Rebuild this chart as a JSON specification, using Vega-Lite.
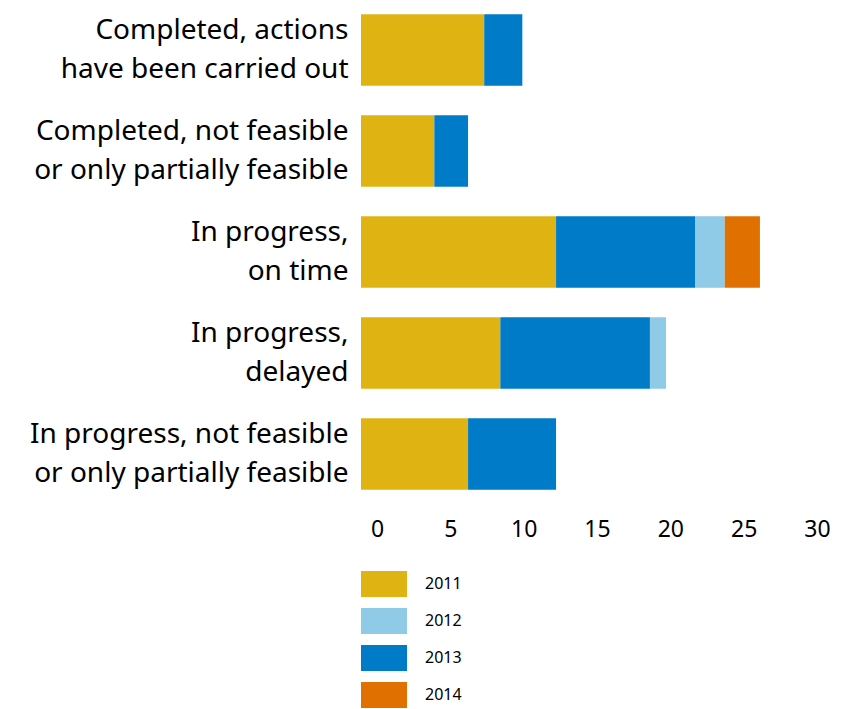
{
  "$schema": "https://vega.github.io/schema/vega-lite/v6.json",
  "autosize": {"type": "none"},
  "padding": {"left": 361, "top": 0, "right": 55, "bottom": 205},
  "width": 440,
  "height": 504,
  "background": "white",
  "config": {
    "font": "Noto Sans",
    "view": {"stroke": null}
  },
  "data": {
    "values": [
      {"status": "Completed, actions |have been carried out", "year": "2011", "count": 8.4},
      {"status": "Completed, actions |have been carried out", "year": "2013", "count": 2.6},
      {"status": "Completed, not feasible|or only partially feasible", "year": "2011", "count": 5.0},
      {"status": "Completed, not feasible|or only partially feasible", "year": "2013", "count": 2.3},
      {"status": "In progress,|on time", "year": "2011", "count": 13.3},
      {"status": "In progress,|on time", "year": "2013", "count": 9.5},
      {"status": "In progress,|on time", "year": "2012", "count": 2.0},
      {"status": "In progress,|on time", "year": "2014", "count": 2.4},
      {"status": "In progress,|delayed", "year": "2011", "count": 9.5},
      {"status": "In progress,|delayed", "year": "2013", "count": 10.2},
      {"status": "In progress,|delayed", "year": "2012", "count": 1.1},
      {"status": "In progress, not feasible |or only partially feasible", "year": "2011", "count": 7.3},
      {"status": "In progress, not feasible |or only partially feasible", "year": "2013", "count": 6.0}
    ]
  },
  "transform": [
    {"calculate": "indexof(['2011', '2013', '2012', '2014'], datum.year)", "as": "stackOrder"}
  ],
  "mark": {"type": "bar"},
  "encoding": {
    "y": {
      "field": "status",
      "type": "nominal",
      "sort": null,
      "scale": {"paddingInner": 0.29, "paddingOuter": 0.14},
      "axis": {
        "title": null,
        "domain": false,
        "ticks": false,
        "labelExpr": "split(datum.label, '|')",
        "labelFontSize": 28,
        "labelLineHeight": 39,
        "labelColor": "#000000",
        "labelPadding": 13,
        "labelOffset": -19,
        "labelLimit": 400
      }
    },
    "x": {
      "field": "count",
      "type": "quantitative",
      "stack": "zero",
      "scale": {"domain": [0, 30], "nice": false},
      "axis": {
        "title": null,
        "domain": false,
        "ticks": false,
        "grid": false,
        "values": [0, 5, 10, 15, 20, 25, 30],
        "labelFontSize": 23,
        "labelColor": "#000000",
        "labelPadding": 14,
        "labelOffset": 16,
        "labelFlush": false,
        "labelOverlap": false
      }
    },
    "color": {
      "field": "year",
      "type": "nominal",
      "scale": {
        "domain": ["2011", "2012", "2013", "2014"],
        "range": ["#DFB412", "#8FCAE7", "#007BC7", "#E07000"]
      },
      "legend": {
        "title": null,
        "orient": "none",
        "legendX": 0,
        "legendY": 561,
        "padding": 0,
        "direction": "vertical",
        "symbolType": "M-1,-0.57H1V0.57H-1Z",
        "symbolSize": 2116,
        "symbolStrokeWidth": 0,
        "symbolOpacity": 1,
        "labelFontSize": 16,
        "labelColor": "#000000",
        "labelOffset": 18,
        "rowPadding": 0
      }
    },
    "order": {"field": "stackOrder", "type": "quantitative"}
  }
}
